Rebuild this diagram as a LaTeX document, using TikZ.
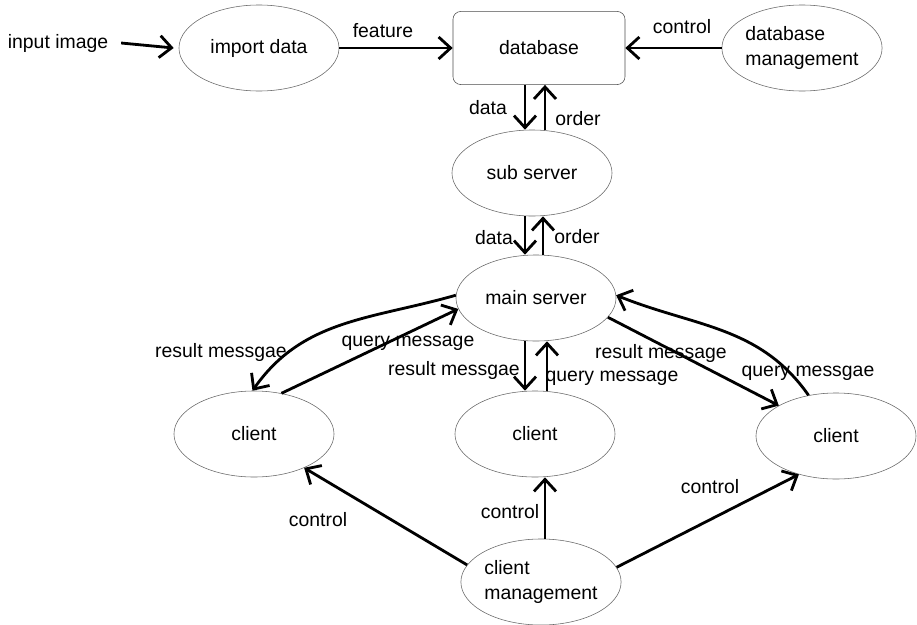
\documentclass[tikz,border=0pt]{standalone}
\usepackage{fontspec}
\setmainfont{Liberation Sans}
\usetikzlibrary{shapes.geometric, arrows.meta, calc}

\begin{document}
\begin{tikzpicture}[x=0.025cm, y=-0.025cm,
  every node/.style={font=\fontsize{13.8}{17.7}\selectfont},
  blob/.style={ellipse, draw=black!60, thin, inner sep=0pt, minimum width=4cm, minimum height=2.15cm, align=left},
  store/.style={rectangle, draw=black!70, thin, rounded corners=0.2cm, minimum width=4.3cm, minimum height=1.83cm},
  flow/.style={-{Straight Barb[length=0.3cm, width=0.55cm]}, line width=2pt}]

\useasboundingbox (0, 0) rectangle (917, 625);

\draw (58, 43) node (input) {input image};

\draw (259, 48) node[blob] (imp) {import data};

\draw (539, 48) node[store] (db) {database};

\draw (802, 48) node[blob] (dbm) {database\\management};

\draw (532, 173) node[blob] (sub) {sub server};

\draw (536, 298) node[blob] (main) {main server};

\draw (254, 434) node[blob] (lclient) {client};

\draw (535, 434) node[blob] (mclient) {client};

\draw (836, 436) node[blob] (rclient) {client};

\draw (541, 582) node[blob] (cmgmt) {client\\management};

\draw[flow] ($(input.east)+(8,0)$) -- ($(imp.west)+(-5,0)$);

\draw[flow] (imp.east) -- (db.west);
\draw (383, 31) node (lfeature) {feature};

\draw[flow] (dbm.west) -- (db.east);
\draw (682, 27) node (lcontrol) {control};

\draw[flow] ($(db.south)+(-14,0)$) -- ($(sub.north)+(-7,0)$);
\draw[flow] ($(sub.north)+(13,0)$) -- ($(db.south)+(6,0)$);
\draw (488, 108) node (ldata) {data};
\draw (578, 119) node (lorder) {order};

\draw[flow] ($(sub.south)+(-7,0)$) -- ($(main.north)+(-11,0)$);
\draw[flow] ($(main.north)+(7,0)$) -- ($(sub.south)+(11,0)$);
\draw (494, 238) node (ldata2) {data};
\draw (577, 237) node (lorder2) {order};

\draw[flow] (main.178) to[out=196, in=55] (lclient.92);
\draw[flow] (lclient.56) -- (main.188);
\draw (221, 352) node (lresult) {result messgae};
\draw (408, 343) node (lquery) {query message};

\draw[flow] ($(main.south)+(-11,0)$) -- ($(mclient.north)+(-10,0)$);
\draw[flow] ($(mclient.north)+(12,0)$) -- ($(main.south)+(11,0)$);
\draw (454, 370) node (mresult) {result messgae};
\draw (612, 378) node (mquery) {query message};

\draw[flow] (main.-15) -- (rclient.152);
\draw[flow] (rclient.124) to[out=125, in=-22] (main.2);
\draw (661, 353) node (rresult) {result message};
\draw (808, 373) node (rquery) {query messgae};

\draw[flow] (cmgmt.167) -- (lclient.-34);
\draw (318, 520) node (lcontrol2) {control};

\draw[flow] ($(cmgmt.north)+(4,0)$) -- ($(mclient.south)+(10,0)$);
\draw (510, 512) node (mcontrol) {control};

\draw[flow] (cmgmt.11) -- (rclient.226);
\draw (710, 487) node (rcontrol) {control};

\end{tikzpicture}
\end{document}
